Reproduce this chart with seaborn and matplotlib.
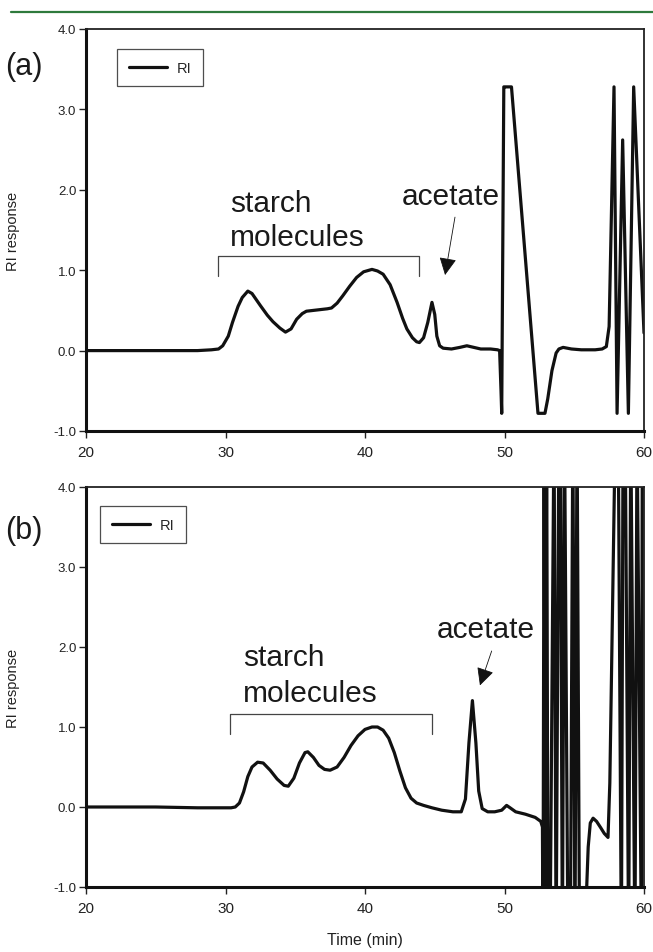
import matplotlib
matplotlib.use("Agg")
import matplotlib.pyplot as plt
import seaborn as sns
import pandas as pd
from matplotlib.lines import Line2D

# ---------------- data ----------------
time_a = [20, 25, 28, 29, 29.5, 29.8, 30.2, 30.5, 30.9, 31.2, 31.6, 31.9, 32.5, 33.0, 33.4,
          33.9, 34.3, 34.7, 35.1, 35.5, 35.8, 36.3, 36.8, 37.3, 37.6, 38.0, 38.4, 38.9,
          39.4, 39.9, 40.5, 40.9, 41.3, 41.8, 42.3, 42.7, 43.0, 43.4, 43.7, 43.9, 44.2,
          44.5, 44.8, 45.0, 45.15, 45.35, 45.6, 46.2, 46.8, 47.3, 47.8, 48.3, 49.0, 49.5,
          49.65, 49.75, 49.8, 49.95, 50.05, 50.5, 52.4, 52.9, 53.1, 53.4, 53.7, 53.9,
          54.2, 54.8, 55.5, 56.5, 57.0, 57.3, 57.5, 57.85, 58.07, 58.47, 58.88, 59.26, 60.0]
ri_a = [0.0, 0.0, 0.0, 0.01, 0.02, 0.06, 0.18, 0.35, 0.55, 0.66, 0.74, 0.71, 0.56, 0.44, 0.36,
        0.28, 0.23, 0.27, 0.39, 0.46, 0.49, 0.50, 0.51, 0.52, 0.53, 0.59, 0.68, 0.80,
        0.91, 0.98, 1.01, 0.99, 0.95, 0.82, 0.60, 0.40, 0.27, 0.16, 0.11, 0.10, 0.16,
        0.35, 0.60, 0.45, 0.18, 0.06, 0.03, 0.02, 0.04, 0.06, 0.04, 0.02, 0.02, 0.01,
        0.0, -0.5, -0.78, 3.28, 3.28, 3.28, -0.78, -0.78, -0.6, -0.25, -0.03, 0.02,
        0.04, 0.02, 0.01, 0.01, 0.02, 0.05, 0.3, 3.28, -0.78, 2.62, -0.78, 3.28, 0.22]

time_b = [20, 25, 28, 30.4, 30.7, 31.0, 31.3, 31.6, 31.9, 32.3, 32.7, 33.2, 33.7, 34.2,
          34.5, 34.9, 35.3, 35.7, 35.9, 36.3, 36.7, 37.1, 37.5, 38.0, 38.5, 39.0, 39.5,
          40.0, 40.5, 40.9, 41.3, 41.7, 42.1, 42.5, 42.9, 43.3, 43.7, 44.2, 44.8, 45.5,
          46.3, 46.9, 47.2, 47.45, 47.7, 47.95, 48.15, 48.4, 48.8, 49.3, 49.8, 50.15,
          50.4, 50.8, 51.5, 52.2, 52.6, 52.72,
          52.76, 52.84, 52.93, 53.02, 53.12, 53.26, 53.55, 53.7, 53.9, 54.0, 54.15,
          54.3, 54.55, 54.72, 54.9, 55.05, 55.2, 55.38, 55.6, 55.85, 56.0, 56.15, 56.35,
          56.6, 56.9, 57.15, 57.42, 57.55,
          57.95, 58.15, 58.38, 58.5, 58.65, 58.9, 59.05, 59.35, 59.5, 59.82, 59.88, 60.0]
ri_b = [0.0, 0.0, -0.01, -0.01, 0.0, 0.05, 0.19, 0.38, 0.50, 0.56, 0.55, 0.46, 0.35, 0.27,
        0.26, 0.36, 0.55, 0.68, 0.69, 0.62, 0.52, 0.47, 0.46, 0.50, 0.62, 0.77, 0.89,
        0.97, 1.0, 1.0, 0.96, 0.86, 0.68, 0.45, 0.24, 0.11, 0.05, 0.02, -0.01, -0.04,
        -0.06, -0.06, 0.1, 0.8, 1.33, 0.8, 0.2, -0.02, -0.06, -0.06, -0.04, 0.02,
        -0.01, -0.06, -0.09, -0.13, -0.18, -0.25,
        -1.8, 4.8, -1.8, 4.8, -1.8, -1.8, 4.8, -1.8, 4.8, 4.8, -1.8,
        4.8, -1.8, -1.8, 4.8, -1.8, 4.8, -1.8, -1.8, -1.2, -0.5, -0.2, -0.14,
        -0.18, -0.26, -0.33, -0.38, 0.3,
        4.8, 4.8, -1.8, 4.8, 4.8, -1.8, 4.8, -1.8, 4.8, -1.8, 4.8, 4.8]

x_ticks = [20, 30, 40, 50, 60]
x_tick_labels = ["20", "30", "40", "50", "60"]
y_ticks = [-1, 0, 1, 2, 3, 4]
y_tick_labels = ["-1.0", "0.0", "1.0", "2.0", "3.0", "4.0"]
panel_labels = ["(a)", "(b)"]
series_name = "RI"
y_label = "RI response"
x_label = "Time (min)"

df_a = pd.DataFrame({"time": time_a, "ri": ri_a})
df_b = pd.DataFrame({"time": time_b, "ri": ri_b})

# ---------------- style ----------------
sns.set_theme(style="ticks")
plt.rcParams['font.family'] = ['Liberation Sans', 'DejaVu Sans']
plt.rcParams['axes.unicode_minus'] = False

W, H = 653, 953
fig = plt.figure(figsize=(W / 100, H / 100), dpi=100)
fig.patch.set_facecolor("white")

ax_a = fig.add_axes([86 / W, 1 - 432 / H, 558 / W, 402 / H])
ax_b = fig.add_axes([86 / W, 1 - 888 / H, 558 / W, 400 / H])

line_color = "#111111"
for ax, df in [(ax_a, df_a), (ax_b, df_b)]:
    sns.lineplot(data=df, x="time", y="ri", sort=False, estimator=None, ax=ax,
                 color=line_color, lw=2.3, label=series_name)
    ax.set_xlim(20, 60)
    ax.set_ylim(-1, 4)
    ax.set_xticks(x_ticks)
    ax.set_xticklabels(x_tick_labels)
    ax.set_yticks(y_ticks)
    ax.set_yticklabels(y_tick_labels)
    ax.set_xlabel("")
    ax.set_ylabel(y_label, fontsize=10.5, color="#222222")
    ax.yaxis.set_label_coords(-0.118, 0.5)
    ax.tick_params(axis="y", direction="out", length=5, width=1, pad=2,
                   labelsize=9.5, colors="#222222")
    ax.tick_params(axis="x", direction="out", length=5, width=1, pad=5,
                   labelsize=11, colors="#222222")
    for side in ["left", "bottom"]:
        ax.spines[side].set_linewidth(2.2)
        ax.spines[side].set_color("#111111")
    for side in ["top", "right"]:
        ax.spines[side].set_linewidth(1.3)
        ax.spines[side].set_color("#222222")
        ax.spines[side].set_visible(True)
    ax.grid(False)

# legends
leg_kw = dict(loc="upper left", borderaxespad=0, frameon=True, fancybox=False,
              edgecolor="#222222", fontsize=10.5, handlelength=2.6, handletextpad=0.7,
              borderpad=0.8)
leg_a = ax_a.legend(bbox_to_anchor=(0.056, 0.95), **leg_kw)
leg_a.get_frame().set_linewidth(0.9)
leg_b = ax_b.legend(bbox_to_anchor=(0.025, 0.9525), **leg_kw)
leg_b.get_frame().set_linewidth(0.9)

ax_b.set_xlabel(x_label, fontsize=11.5, color="#222222")
ax_b.xaxis.set_label_coords(0.5, -0.113)

# annotations
txt_kw = dict(fontsize=21.5, color="#1a1a1a", ha="left", va="baseline")
br_kw = dict(color="#444444", lw=0.9)
arrow_kw = dict(arrowstyle="-|>,head_length=0.9,head_width=0.45", color="#111111",
                lw=0.6, shrinkA=0, shrinkB=0)

# panel (a)
ax_a.text(30.3, 1.74, "starch", **txt_kw)
ax_a.text(30.3, 1.31, "molecules", **txt_kw)
ax_a.plot([29.45, 29.45, 43.9, 43.9], [0.93, 1.18, 1.18, 0.93], **br_kw)
ax_a.text(42.6, 1.82, "acetate", **txt_kw)
ax_a.annotate("", xy=(45.74, 0.94), xytext=(46.45, 1.66), arrowprops=arrow_kw)

# panel (b)
ax_b.text(31.25, 1.77, "starch", **txt_kw)
ax_b.text(31.25, 1.33, "molecules", **txt_kw)
ax_b.plot([30.32, 30.32, 44.78, 44.78], [0.91, 1.16, 1.16, 0.91], **br_kw)
ax_b.text(45.14, 2.12, "acetate", **txt_kw)
ax_b.annotate("", xy=(48.24, 1.52), xytext=(49.08, 1.95), arrowprops=arrow_kw)

# panel labels
fig.text(5 / W, 1 - 67 / H, panel_labels[0], fontsize=22, color="#1a1a1a", va="center", ha="left")
fig.text(5 / W, 1 - 531 / H, panel_labels[1], fontsize=22, color="#1a1a1a", va="center", ha="left")

# green rule at the top of the page
fig.add_artist(Line2D([11 / W, 1.0], [1 - 13 / H, 1 - 13 / H], color="#2e7a3c", lw=1.6))

fig.savefig("out.png", dpi=100)
